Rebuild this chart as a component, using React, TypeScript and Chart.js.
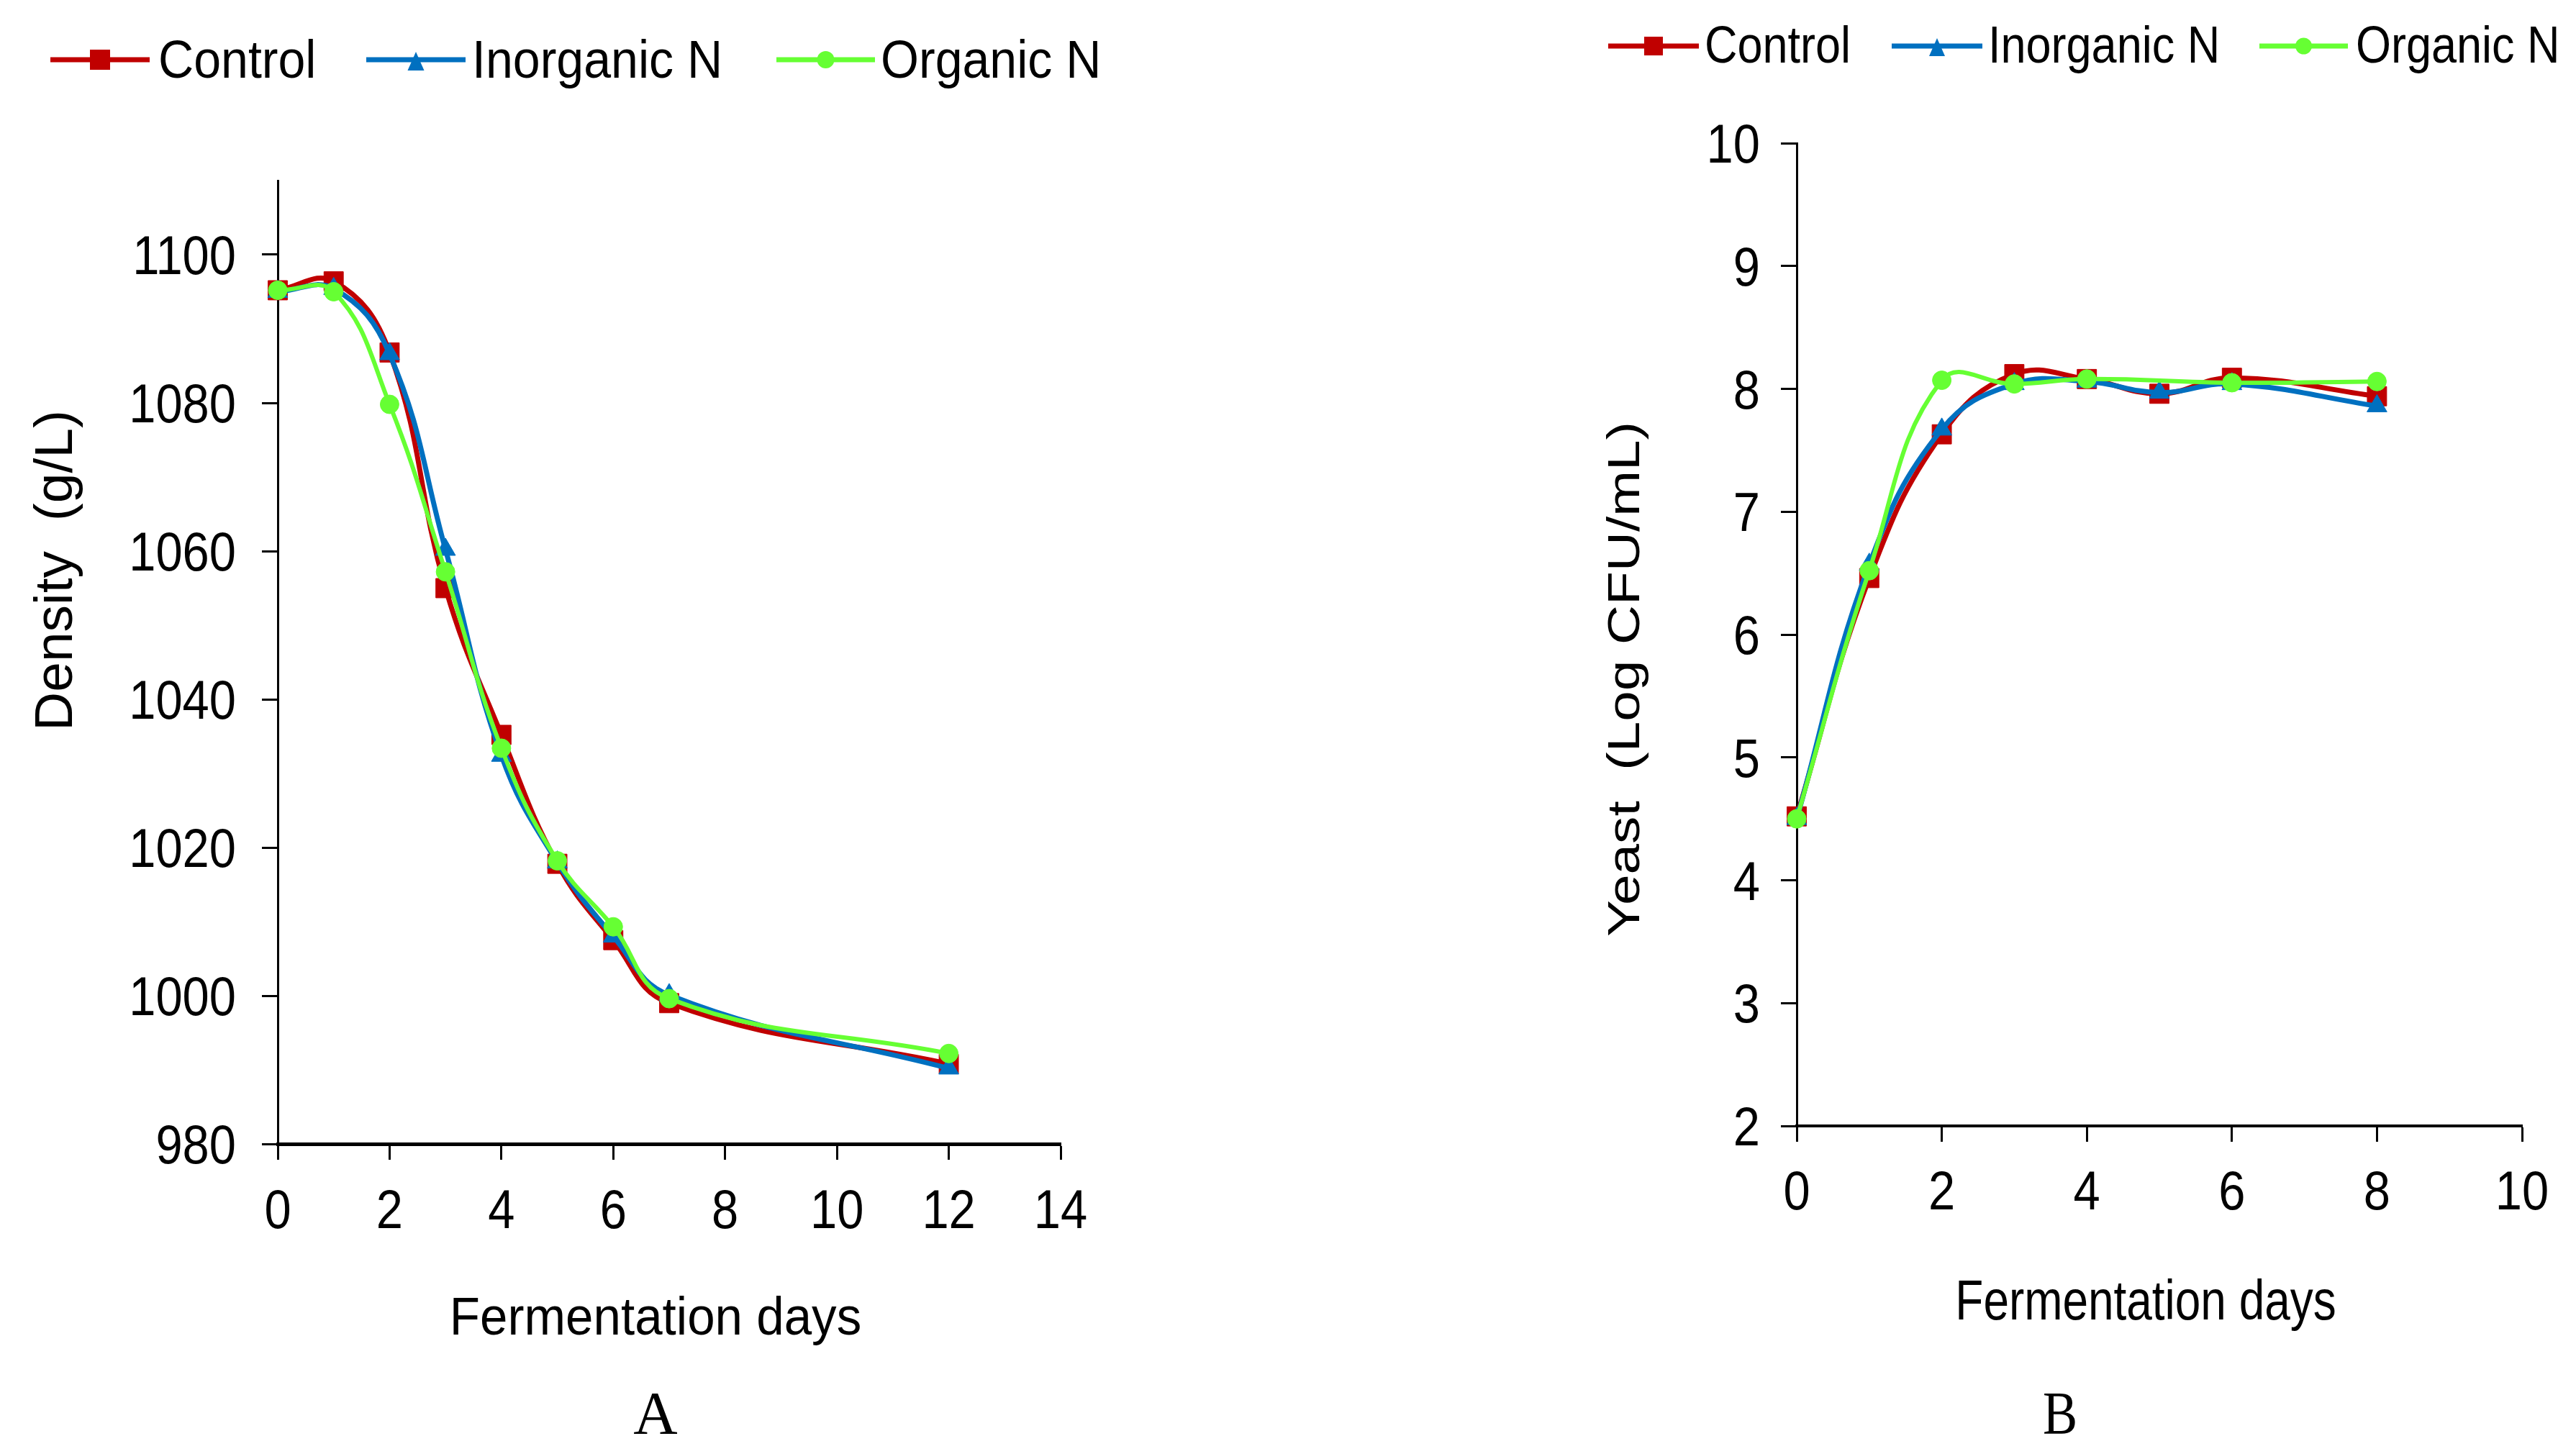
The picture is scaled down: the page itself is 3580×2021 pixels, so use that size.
import React, { useEffect, useRef } from "react";
import { Chart, registerables } from "chart.js";

Chart.register(...registerables);

// ---------------- data ----------------
const SERIES_NAMES = ["Control", "Inorganic N", "Organic N"];
const SERIES_COLORS = ["#C00000", "#0070C0", "#66FF33"];
const SERIES_MARKERS = ["rect", "triangle", "circle"];

const densityDays = [0, 1, 2, 3, 4, 5, 6, 7, 12];
const densityControl = [1095.2, 1096.4, 1086.8, 1055.0, 1035.2, 1017.8, 1007.5, 999.0, 990.8];
const densityInorganic = [1095.0, 1095.4, 1086.6, 1060.2, 1032.4, 1018.0, 1008.0, 1000.1, 990.2];
const densityOrganic = [1095.2, 1095.0, 1079.8, 1057.2, 1033.4, 1018.2, 1009.3, 999.6, 992.2];

const yeastDays = [0, 1, 2, 3, 4, 5, 6, 8];
const yeastControl = [4.52, 6.46, 7.63, 8.12, 8.08, 7.96, 8.09, 7.94];
const yeastInorganic = [4.5, 6.57, 7.67, 8.04, 8.06, 7.97, 8.04, 7.86];
const yeastOrganic = [4.5, 6.52, 8.07, 8.04, 8.08, null, 8.05, 8.06];

const densityXAxis = { min: 0, max: 14, step: 2 };
const densityYAxis = { min: 980, max: 1110, step: 20 };
const yeastXAxis = { min: 0, max: 10, step: 2 };
const yeastYAxis = { min: 2, max: 10, step: 1 };

const X_TITLE = "Fermentation days";
const DENSITY_Y_TITLE = "Density  (g/L)";
const YEAST_Y_TITLE = "Yeast  (Log CFU/mL)";

// ---------------- styles ----------------
const SANS = "'Liberation Sans', Arial, sans-serif";
const SERIF = "'Liberation Serif', 'Times New Roman', serif";
const POINT_RADII = [19, 16, 13];
const LINE_WIDTHS = [7, 7, 6];
const TICK_FONT = { size: 76, family: SANS, scale: 0.88 };

const CW = 1790;
const CH = 2021;

type Font = { size: number; family: string; scale: number };

function drawText(
  ctx: CanvasRenderingContext2D,
  text: string,
  x: number,
  y: number,
  font: Font,
  align: CanvasTextAlign
) {
  ctx.save();
  ctx.translate(x, y);
  ctx.scale(font.scale, 1);
  ctx.font = `${font.size}px ${font.family}`;
  ctx.textAlign = align;
  ctx.textBaseline = "alphabetic";
  ctx.fillStyle = "#000";
  ctx.fillText(text, 0, 0);
  ctx.restore();
}

function drawMarker(ctx: CanvasRenderingContext2D, style: string, cx: number, cy: number, m: any) {
  ctx.beginPath();
  if (style === "rect") {
    ctx.rect(cx - m.square / 2, cy - m.square / 2, m.square, m.square);
  } else if (style === "triangle") {
    ctx.moveTo(cx, cy - m.triUp);
    ctx.lineTo(cx + m.triW / 2, cy + m.triDown);
    ctx.lineTo(cx - m.triW / 2, cy + m.triDown);
    ctx.closePath();
  } else {
    ctx.arc(cx, cy, m.circle / 2, 0, Math.PI * 2);
  }
  ctx.fill();
}

function makeTextPlugin(lay: any) {
  return {
    id: "panelText",
    afterDraw(chart: any) {
      const ctx: CanvasRenderingContext2D = chart.ctx;
      // tick labels, taken from the library's scales
      const xs = chart.scales.x;
      const ys = chart.scales.y;
      const cap = TICK_FONT.size * 0.716;
      xs.ticks.forEach((t: any, i: number) => {
        drawText(ctx, String(t.value), xs.getPixelForTick(i), lay.xTickBaseline, TICK_FONT, "center");
      });
      ys.ticks.forEach((t: any, i: number) => {
        drawText(ctx, String(t.value), ys.right - lay.yTickGap, ys.getPixelForTick(i) + cap / 2, TICK_FONT, "right");
      });
      // legend
      const L = lay.legend;
      chart.data.datasets.forEach((ds: any, i: number) => {
        const it = L.items[i];
        ctx.save();
        ctx.strokeStyle = ds.borderColor;
        ctx.fillStyle = ds.borderColor;
        ctx.lineWidth = L.lineWidth;
        ctx.beginPath();
        ctx.moveTo(it.x0, L.lineY);
        ctx.lineTo(it.x1, L.lineY);
        ctx.stroke();
        drawMarker(ctx, ds.pointStyle, (it.x0 + it.x1) / 2, L.lineY, L.marker);
        ctx.restore();
        drawText(ctx, ds.label, it.tx, L.baseline, L.font, "left");
      });
      // y title
      const yt = lay.yTitle;
      const ycap = yt.font.size * 0.716;
      ctx.save();
      ctx.translate(yt.cx, yt.cy);
      ctx.rotate(-Math.PI / 2);
      ctx.scale(yt.font.scale, 1);
      ctx.font = `${yt.font.size}px ${yt.font.family}`;
      ctx.textAlign = "center";
      ctx.textBaseline = "alphabetic";
      ctx.fillStyle = "#000";
      ctx.fillText(yt.text, 0, ycap / 2);
      ctx.restore();
      // x title and panel letter
      const xt = lay.xTitle;
      drawText(ctx, xt.text, xt.cx, xt.baseline, xt.font, "center");
      const lt = lay.letter;
      drawText(ctx, lt.text, lt.cx, lt.baseline, lt.font, "center");
    },
  };
}

function buildConfig(p: any) {
  const datasets = p.series.map((vals: (number | null)[], i: number) => ({
    label: SERIES_NAMES[i],
    data: p.days.map((d: number, j: number) => ({ x: d, y: vals[j] })),
    borderColor: SERIES_COLORS[i],
    backgroundColor: SERIES_COLORS[i],
    pointBackgroundColor: SERIES_COLORS[i],
    pointBorderColor: SERIES_COLORS[i],
    pointStyle: SERIES_MARKERS[i],
    pointRadius: POINT_RADII[i],
    pointBorderWidth: 1,
    borderWidth: LINE_WIDTHS[i],
    tension: 0.42,
    spanGaps: true,
    order: 3 - i,
    clip: false,
    fill: false,
  }));
  const lay = p.layout;
  const grid = {
    display: true,
    drawOnChartArea: false,
    drawTicks: true,
    tickLength: 22,
    tickWidth: 3,
    tickColor: "#000",
    color: "#000",
  };
  return {
    type: "line" as const,
    data: { datasets },
    options: {
      responsive: false,
      devicePixelRatio: 1,
      animation: false,
      layout: {
        padding: { left: 0, top: lay.area.top, right: CW - lay.area.right, bottom: 0 },
      },
      plugins: {
        legend: { display: false },
        tooltip: { enabled: false },
        title: { display: false },
      },
      scales: {
        x: {
          type: "linear",
          min: p.xAxis.min,
          max: p.xAxis.max,
          afterFit: (s: any) => {
            s.height = CH - lay.area.bottom;
          },
          ticks: {
            display: false,
            stepSize: p.xAxis.step,
            autoSkip: false,
            maxRotation: 0,
            includeBounds: false,
          },
          grid,
          border: { display: true, color: "#000", width: lay.xBorder },
        },
        y: {
          type: "linear",
          min: p.yAxis.min,
          max: p.yAxis.max,
          afterFit: (s: any) => {
            s.width = lay.area.left;
          },
          ticks: {
            display: false,
            stepSize: p.yAxis.step,
            autoSkip: false,
            includeBounds: false,
          },
          grid,
          border: { display: true, color: "#000", width: 3 },
        },
      },
    },
    plugins: [makeTextPlugin(lay)],
  };
}

const legendMarkerA = { square: 28, triW: 23, triUp: 11, triDown: 15, circle: 24 };
const legendMarkerB = { square: 26, triW: 22, triUp: 11, triDown: 14, circle: 23 };

const panelA = {
  days: densityDays,
  series: [densityControl, densityInorganic, densityOrganic],
  xAxis: densityXAxis,
  yAxis: densityYAxis,
  layout: {
    area: { left: 386, top: 251, right: 1474, bottom: 1590 },
    xTickBaseline: 1707,
    yTickGap: 58,
    xBorder: 5,
    legend: {
      lineY: 83,
      baseline: 108,
      lineWidth: 7,
      marker: legendMarkerA,
      font: { size: 74, family: SANS, scale: 0.92 },
      items: [
        { x0: 70, x1: 208, tx: 220 },
        { x0: 509, x1: 647, tx: 656 },
        { x0: 1079, x1: 1216, tx: 1224 },
      ],
    },
    yTitle: { text: DENSITY_Y_TITLE, cx: 73, cy: 793, font: { size: 75, family: SANS, scale: 1.0 } },
    xTitle: { text: X_TITLE, cx: 911, baseline: 1855, font: { size: 74, family: SANS, scale: 0.934 } },
    letter: { text: "A", cx: 911, baseline: 1993, font: { size: 85, family: SERIF, scale: 1.0 } },
  },
};

const panelB = {
  days: yeastDays,
  series: [yeastControl, yeastInorganic, yeastOrganic],
  xAxis: yeastXAxis,
  yAxis: yeastYAxis,
  layout: {
    area: { left: 707, top: 199, right: 1715, bottom: 1565 },
    xTickBaseline: 1681,
    yTickGap: 51,
    xBorder: 4,
    legend: {
      lineY: 64,
      baseline: 87,
      lineWidth: 7,
      marker: legendMarkerB,
      font: { size: 72, family: SANS, scale: 0.875 },
      items: [
        { x0: 445, x1: 571, tx: 579 },
        { x0: 839, x1: 965, tx: 973 },
        { x0: 1350, x1: 1473, tx: 1484 },
      ],
    },
    yTitle: { text: YEAST_Y_TITLE, cx: 465, cy: 944, font: { size: 63, family: SANS, scale: 1.215 } },
    xTitle: { text: X_TITLE, cx: 1192, baseline: 1834, font: { size: 77, family: SANS, scale: 0.83 } },
    letter: { text: "B", cx: 1073, baseline: 1993, font: { size: 85, family: SERIF, scale: 0.85 } },
  },
};

function Panel({ left, spec }: { left: number; spec: any }) {
  const ref = useRef<HTMLCanvasElement>(null);
  useEffect(() => {
    const chart = new Chart(ref.current as HTMLCanvasElement, buildConfig(spec) as any);
    return () => chart.destroy();
  }, [spec]);
  return (
    <canvas
      ref={ref}
      width={CW}
      height={CH}
      style={{ position: "absolute", left, top: 0, display: "block" }}
    />
  );
}

export default function App() {
  return (
    <div
      style={{
        position: "absolute",
        left: 0,
        top: 0,
        width: 3580,
        height: 2021,
        background: "#fff",
        overflow: "hidden",
      }}
    >
      <Panel left={0} spec={panelA} />
      <Panel left={1790} spec={panelB} />
    </div>
  );
}
